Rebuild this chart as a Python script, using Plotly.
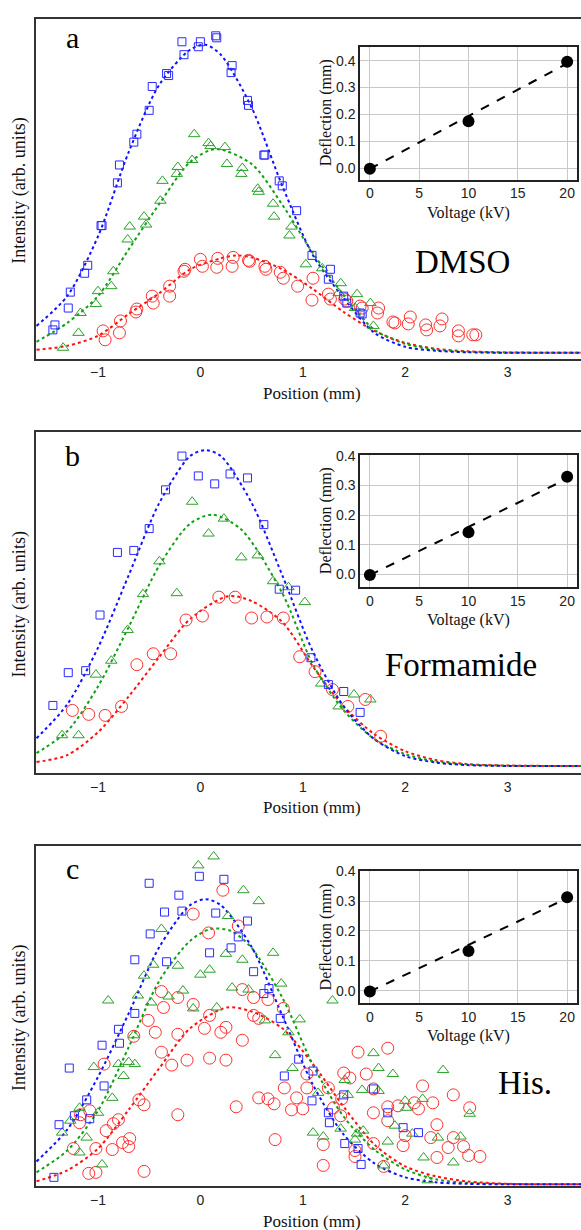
import plotly.graph_objects as go

# ---------------- data ----------------
# Panel a (DMSO) - scatter
a_sq_x = [-0.18,0.0,-0.02,0.15,0.16,-0.16,0.31,0.30,-0.33,-0.31,-0.47,-0.50,-0.62,-0.65,0.46,0.47,-0.79,-0.81,0.62,0.63,0.77,0.80,-0.96,-0.97,-1.10,-1.13,-1.27,-1.29,-1.42,-1.44,0.94,1.09,1.27,1.25,1.40,1.43,1.56,1.58]
a_sq_y = [3.13,3.13,3.08,3.19,3.17,3.00,2.89,2.82,2.81,2.79,2.68,2.44,2.20,2.12,2.54,2.49,1.89,1.71,1.99,1.99,1.73,1.68,1.28,1.28,0.88,0.80,0.61,0.45,0.28,0.23,1.43,0.98,0.84,0.74,0.57,0.50,0.40,0.39]
a_tr_x = [-0.06,0.08,0.10,0.24,0.26,-0.08,-0.22,-0.23,-0.37,-0.39,0.41,0.40,0.56,0.57,0.71,-0.55,-0.53,-0.69,-0.71,-0.85,-0.87,-1.00,-1.02,-1.17,-1.19,-1.34,0.72,0.89,0.87,1.03,1.19,1.37,1.35,1.53,1.51,1.66,1.69]
a_tr_y = [2.20,2.11,2.08,2.07,1.90,1.94,1.87,1.80,1.73,1.53,1.86,1.80,1.65,1.62,1.50,1.37,1.29,1.27,1.14,0.82,0.67,0.62,0.49,0.40,0.20,0.05,1.37,1.27,1.18,0.89,0.85,0.70,0.60,0.59,0.45,0.50,0.27]
a_ci_x = [-0.95,-0.93,-0.78,-0.79,-0.62,-0.63,-0.47,-0.46,-0.30,-0.30,-0.15,-0.16,0.0,0.02,0.17,0.16,0.32,0.31,0.47,0.48,0.63,0.64,0.78,0.81,0.95,1.10,1.09,1.25,1.27,1.41,1.43,1.56,1.58,1.74,1.73,1.88,1.90,2.05,2.03,2.20,2.21,2.36,2.34,2.52,2.52,2.66,2.69]
a_ci_y = [0.22,0.13,0.32,0.20,0.44,0.41,0.57,0.50,0.67,0.57,0.84,0.82,0.94,0.87,0.95,0.86,0.96,0.87,0.93,0.92,0.87,0.84,0.81,0.75,0.67,0.75,0.53,0.59,0.54,0.54,0.52,0.47,0.45,0.45,0.40,0.31,0.30,0.36,0.29,0.28,0.23,0.34,0.27,0.22,0.17,0.18,0.18]
# Panel a - fit curves
a_fb_x = [-1.6,-1.3,-1.0,-0.7,-0.4,-0.1,0.05,0.2,0.5,0.8,1.1,1.4,1.7,2.0,2.3,2.6,3.0,3.8]
a_fb_y = [0.27,0.57,1.17,2.02,2.70,3.05,3.10,3.00,2.47,1.68,0.98,0.55,0.20,0.06,0.02,0.005,0,0]
a_fg_x = [-1.6,-1.3,-1.0,-0.7,-0.4,-0.1,0.15,0.5,0.8,1.1,1.4,1.7,2.0,2.3,2.6,3.0,3.8]
a_fg_y = [0.11,0.30,0.57,1.04,1.50,1.92,2.05,1.90,1.49,1.00,0.58,0.23,0.09,0.03,0.01,0,0]
a_fr_x = [-1.6,-1.3,-1.0,-0.7,-0.4,-0.1,0.2,0.35,0.5,0.8,1.1,1.4,1.7,2.0,2.3,2.6,3.0,3.8]
a_fr_y = [0.03,0.07,0.17,0.39,0.60,0.84,0.95,0.98,0.96,0.84,0.64,0.41,0.22,0.10,0.04,0.015,0.003,0]

# Panel b (Formamide)
b_sq_x = [-0.18,-0.02,0.14,0.29,0.46,-0.34,-0.50,-0.65,-0.81,0.62,0.77,0.93,-0.98,-1.12,-1.29,-1.44,1.08,1.25,1.40,1.56]
b_sq_y = [3.12,2.92,2.84,2.94,2.90,2.78,2.39,2.17,2.15,2.43,1.78,1.77,1.52,0.96,0.94,0.61,1.09,0.82,0.75,0.54]
b_tr_x = [-0.08,0.23,0.08,0.40,0.56,-0.40,-0.56,-0.23,0.71,0.86,1.02,-0.71,-0.87,-1.02,-1.35,-1.19,1.18,1.35,1.50,1.66]
b_tr_y = [2.66,2.49,2.34,2.10,2.12,2.06,1.73,1.74,1.86,1.80,1.65,1.37,1.06,0.92,0.31,0.31,0.83,0.60,0.72,0.67]
b_ci_x = [0.18,0.34,-0.14,0.02,0.50,0.65,0.81,0.97,-0.29,-0.46,-0.62,-0.77,-0.93,-1.09,-1.25,1.12,1.29,1.44,1.61,1.76]
b_ci_y = [1.70,1.70,1.47,1.51,1.49,1.50,1.49,1.10,1.13,1.13,1.02,0.60,0.51,0.52,0.56,0.95,0.77,0.60,0.67,0.30]
b_fb_x = [-1.6,-1.3,-1.0,-0.7,-0.4,-0.1,0.05,0.2,0.5,0.8,1.1,1.4,1.7,2.0,2.3,2.6,3.0,3.8]
b_fb_y = [0.28,0.62,1.19,1.92,2.65,3.12,3.18,3.12,2.65,1.92,1.15,0.60,0.27,0.10,0.035,0.01,0.001,0]
b_fg_x = [-1.6,-1.3,-1.0,-0.7,-0.4,-0.1,0.12,0.4,0.8,1.1,1.4,1.7,2.0,2.3,2.6,3.0,3.8]
b_fg_y = [0.13,0.35,0.80,1.40,2.02,2.44,2.53,2.38,1.74,1.02,0.56,0.27,0.12,0.045,0.015,0.003,0]
b_fr_x = [-1.6,-1.3,-1.0,-0.7,-0.4,-0.1,0.27,0.5,0.8,1.1,1.4,1.7,2.0,2.3,2.6,3.0,3.8]
b_fr_y = [0.04,0.11,0.34,0.70,1.10,1.48,1.71,1.66,1.45,1.00,0.60,0.32,0.15,0.06,0.02,0.005,0]

# Panel c (His.)
c_sq_x = [-0.50,-0.01,0.23,-0.21,-0.35,-0.18,0.15,0.46,-0.49,0.37,0.30,0.09,-0.64,-0.33,0.52,0.67,0.62,-0.64,0.78,-0.80,-0.79,-0.96,-1.28,-0.94,-1.11,-1.23,-1.08,-1.38,-1.43,0.82,0.96,1.10,1.09,1.40,1.25,1.26,1.41,1.54,1.57,1.69,1.83,1.98,2.13]
c_sq_y = [3.03,3.10,3.07,2.91,2.74,2.75,2.73,2.65,2.52,2.49,2.38,2.33,2.26,2.24,2.14,1.97,1.92,1.72,1.67,1.56,1.42,1.40,1.17,0.99,0.85,0.69,0.66,0.60,0.07,1.09,1.26,1.14,0.84,0.90,0.72,0.62,0.41,0.36,0.20,0.96,0.72,0.57,0.52]
c_tr_x = [0.13,-0.02,0.42,0.57,0.27,-0.38,0.25,0.71,0.41,-0.46,-0.22,-0.55,0.0,0.09,0.79,0.31,0.47,-0.17,-0.31,-0.61,-0.90,-0.48,0.16,-0.07,0.63,0.97,1.29,-0.65,-1.04,-0.80,-0.70,-0.64,-0.75,-0.86,-1.18,-1.27,-1.00,-1.35,-1.11,-1.18,-0.96,0.73,0.90,0.86,1.69,1.74,1.88,2.37,1.41,1.44,1.58,1.74,1.15,2.00,2.17,2.01,1.90,2.07,1.37,1.53,1.59,1.10,1.20,1.51,1.83,2.32,2.54,2.63,2.18,2.47,1.79,2.22]
c_tr_y = [3.30,3.21,2.96,2.85,2.70,2.57,2.32,2.33,2.26,2.21,2.20,2.10,2.11,2.16,2.02,1.98,1.96,1.95,1.89,1.90,1.85,1.83,1.78,1.77,1.65,1.66,1.85,1.50,1.18,1.21,1.23,1.21,1.09,0.87,0.77,0.64,0.72,0.52,0.47,0.32,0.20,1.30,1.17,1.53,1.32,1.17,1.11,1.15,1.05,0.90,0.95,0.94,0.92,0.84,0.86,0.77,0.59,0.51,0.56,0.51,0.54,0.52,0.48,0.45,0.43,0.47,0.48,0.71,0.27,0.22,0.19,0.04]
c_ci_x = [0.22,-0.07,0.08,0.37,-0.38,-0.22,0.41,0.52,0.66,0.81,-0.36,-0.07,0.09,0.52,0.57,-0.51,-0.65,-0.44,-0.22,0.04,0.20,0.25,0.41,-0.38,-0.28,-0.13,0.09,0.25,-0.94,-0.60,-0.55,-1.08,-1.17,-1.18,-0.80,-0.85,-0.92,-0.22,0.35,0.57,0.66,0.72,0.82,0.94,0.89,0.73,-0.69,-0.76,-0.70,-0.86,-1.02,-1.24,-1.09,-1.02,-0.55,1.54,1.83,1.40,1.46,1.62,1.69,1.04,1.04,1.25,1.00,1.38,1.30,1.37,1.69,1.83,1.93,1.83,2.00,1.98,2.09,2.13,2.17,2.27,2.47,2.63,2.31,2.25,2.31,2.42,2.47,2.57,2.62,2.73,1.20,1.20,1.51,1.51,1.69,1.79]
c_ci_y = [2.96,2.72,2.53,2.60,1.94,1.88,1.96,1.88,1.86,1.77,1.78,1.81,1.70,1.70,1.67,1.65,1.49,1.53,1.51,1.57,1.53,1.58,1.45,1.33,1.20,1.25,1.27,1.25,1.21,0.85,0.80,0.74,0.70,0.62,0.65,0.61,0.54,0.70,0.78,0.87,0.86,0.81,0.97,0.87,0.75,0.45,0.46,0.42,0.38,0.35,0.36,0.36,0.11,0.12,0.13,1.33,1.37,1.12,1.07,1.11,0.96,1.11,0.97,0.97,0.76,0.86,0.77,0.69,0.72,0.78,0.79,0.64,0.49,0.39,0.82,0.76,0.99,0.82,0.90,0.77,0.60,0.47,0.27,0.37,0.47,0.38,0.29,0.28,0.40,0.19,0.34,0.28,0.41,0.18]
c_fb_x = [-1.6,-1.3,-1.0,-0.7,-0.4,-0.1,0.05,0.2,0.5,0.8,1.1,1.4,1.7,2.0,2.3,2.6,3.0,3.8]
c_fb_y = [0.23,0.55,1.08,1.72,2.39,2.81,2.87,2.81,2.39,1.70,1.00,0.50,0.21,0.07,0.02,0.005,0,0]
c_fg_x = [-1.6,-1.3,-1.0,-0.7,-0.4,-0.1,0.1,0.3,0.5,0.8,1.1,1.4,1.7,2.0,2.3,2.6,3.0,3.8]
c_fg_y = [0.12,0.34,0.74,1.38,2.05,2.45,2.57,2.55,2.38,1.88,1.20,0.68,0.35,0.15,0.05,0.015,0.002,0]
c_fr_x = [-1.6,-1.3,-1.0,-0.7,-0.4,-0.1,0.26,0.5,0.8,1.1,1.4,1.7,2.0,2.3,2.6,3.0,3.8]
c_fr_y = [0.03,0.14,0.36,0.75,1.17,1.57,1.78,1.74,1.57,1.21,0.78,0.40,0.18,0.08,0.03,0.005,0]

# Insets: deflection vs voltage
voltage = [0, 10, 20]
defl_a = [-0.003, 0.174, 0.396]
defl_b = [-0.003, 0.142, 0.330]
defl_c = [-0.003, 0.133, 0.313]
fit_v = [0, 20]
fit_a = [-0.003, 0.390]
fit_b = [-0.003, 0.323]
fit_c = [-0.003, 0.310]

pos_ticks = [-1, 0, 1, 2, 3]
pos_ticktext = ["\u22121", "0", "1", "2", "3"]
volt_ticks = [0, 5, 10, 15, 20]
defl_ticks = [0.0, 0.1, 0.2, 0.3, 0.4]
defl_ticktext = ["0.0", "0.1", "0.2", "0.3", "0.4"]
solvents = ["DMSO", "Formamide", "His."]
letters = ["a", "b", "c"]

# ---------------- layout helpers ----------------
W, H = 581, 1230
def fx(p):
    return p / W
def fy(p):
    return 1 - p / H

SERIF = "Liberation Serif, Times New Roman, serif"
SANS = "Liberation Sans, Arial, sans-serif"
SQ_COL = "#2a2aff"; TR_COL = "#2ca02c"; CI_COL = "#ff3030"
FB_COL = "#1010ff"; FG_COL = "#10a010"; FR_COL = "#ff1010"

fig = go.Figure()

panels = [
    dict(sq=(a_sq_x, a_sq_y), tr=(a_tr_x, a_tr_y), ci=(a_ci_x, a_ci_y),
         fb=(a_fb_x, a_fb_y), fg=(a_fg_x, a_fg_y), fr=(a_fr_x, a_fr_y),
         defl=defl_a, fit=fit_a, top=11, bot=353, base=347,
         itop=39, ibot=173, iyr=[-0.044, 0.452]),
    dict(sq=(b_sq_x, b_sq_y), tr=(b_tr_x, b_tr_y), ci=(b_ci_x, b_ci_y),
         fb=(b_fb_x, b_fb_y), fg=(b_fg_x, b_fg_y), fr=(b_fr_x, b_fr_y),
         defl=defl_b, fit=fit_b, top=427, bot=770, base=763,
         itop=450, ibot=583, iyr=[-0.044, 0.403]),
    dict(sq=(c_sq_x, c_sq_y), tr=(c_tr_x, c_tr_y), ci=(c_ci_x, c_ci_y),
         fb=(c_fb_x, c_fb_y), fg=(c_fg_x, c_fg_y), fr=(c_fr_x, c_fr_y),
         defl=defl_c, fit=fit_c, top=843, bot=1186, base=1184,
         itop=869, ibot=1002, iyr=[-0.043, 0.400]),
]

annotations = []
layout_axes = {}
for i, p in enumerate(panels):
    mx = 2 * i + 1
    ix = 2 * i + 2
    mxa = "x" if mx == 1 else f"x{mx}"
    mya = "y" if mx == 1 else f"y{mx}"
    ixa = f"x{ix}"
    iya = f"y{ix}"

    # fit curves
    for (cx, cy), col in [(p["fr"], FR_COL), (p["fg"], FG_COL), (p["fb"], FB_COL)]:
        fig.add_trace(go.Scatter(x=cx, y=cy, mode="lines", xaxis=mxa, yaxis=mya,
                                 line=dict(color=col, width=2, dash="dot", shape="spline", smoothing=0.8),
                                 showlegend=False, hoverinfo="skip"))
    # data markers
    fig.add_trace(go.Scatter(x=p["ci"][0], y=p["ci"][1], mode="markers", xaxis=mxa, yaxis=mya,
                             marker=dict(symbol="circle-open", size=12, color=CI_COL, line=dict(width=1, color=CI_COL)),
                             showlegend=False))
    fig.add_trace(go.Scatter(x=p["tr"][0], y=p["tr"][1], mode="markers", xaxis=mxa, yaxis=mya,
                             marker=dict(symbol="triangle-up-open", size=10, color=TR_COL, line=dict(width=1, color=TR_COL)),
                             showlegend=False))
    fig.add_trace(go.Scatter(x=p["sq"][0], y=p["sq"][1], mode="markers", xaxis=mxa, yaxis=mya,
                             marker=dict(symbol="square-open", size=8, color=SQ_COL, line=dict(width=1, color=SQ_COL)),
                             showlegend=False))
    # inset
    fig.add_trace(go.Scatter(x=fit_v, y=p["fit"], mode="lines", xaxis=ixa, yaxis=iya,
                             line=dict(color="black", width=2, dash="dash"), showlegend=False))
    fig.add_trace(go.Scatter(x=voltage, y=p["defl"], mode="markers", xaxis=ixa, yaxis=iya,
                             marker=dict(symbol="circle", size=12, color="black"), showlegend=False))

    ybot = (p["base"] - p["bot"]) / 100.0
    ytop = (p["base"] - p["top"]) / 100.0
    layout_axes["xaxis" if mx == 1 else f"xaxis{mx}"] = dict(
        domain=[fx(36), 1.0], range=[-1.605, 3.717], anchor=mya,
        tickvals=pos_ticks, ticktext=pos_ticktext, ticks="",
        tickfont=dict(family=SANS, size=14, color="#222"),
        showline=True, linecolor="#333", linewidth=1.5, mirror=True,
        showgrid=False, zeroline=False)
    layout_axes["yaxis" if mx == 1 else f"yaxis{mx}"] = dict(
        domain=[fy(p["bot"]), fy(p["top"])], range=[ybot, ytop], anchor=mxa,
        showticklabels=False, ticks="", showline=True, linecolor="#333", linewidth=1.5,
        mirror=False, showgrid=False, zeroline=False)
    layout_axes[f"xaxis{ix}"] = dict(
        domain=[fx(360), fx(577)], range=[-1, 21], anchor=iya,
        tickvals=volt_ticks, ticks="", tickfont=dict(family=SANS, size=14, color="#222"),
        showline=True, linecolor="#222", linewidth=1.5, mirror=True,
        showgrid=True, gridcolor="#c8c8c8", gridwidth=1, zeroline=False)
    layout_axes[f"yaxis{ix}"] = dict(
        domain=[fy(p["ibot"]), fy(p["itop"])], range=p["iyr"], anchor=ixa,
        tickvals=defl_ticks, ticktext=defl_ticktext, ticks="",
        tickfont=dict(family=SANS, size=14, color="#222"),
        showline=True, linecolor="#222", linewidth=1.5, mirror=True,
        showgrid=True, gridcolor="#c8c8c8", gridwidth=1, zeroline=False)

    # text annotations
    annotations.append(dict(text="Position (mm)", x=fx(312), y=fy(p["bot"] + 35), xref="paper", yref="paper",
                            showarrow=False, font=dict(family=SERIF, size=17, color="#111"),
                            xanchor="center", yanchor="middle"))
    annotations.append(dict(text="Intensity (arb. units)", x=fx(20), y=fy((p["top"] + p["bot"]) / 2 + 2),
                            xref="paper", yref="paper", showarrow=False, textangle=-90,
                            font=dict(family=SERIF, size=18, color="#111"), xanchor="center", yanchor="middle"))
    annotations.append(dict(text="Voltage (kV)", x=fx(468), y=fy(p["ibot"] + 33), xref="paper", yref="paper",
                            showarrow=False, font=dict(family=SERIF, size=16, color="#111"),
                            xanchor="center", yanchor="middle"))
    annotations.append(dict(text="Deflection (mm)", x=fx(326), y=fy((p["itop"] + p["ibot"]) / 2),
                            xref="paper", yref="paper", showarrow=False, textangle=-90,
                            font=dict(family=SERIF, size=16, color="#111"), xanchor="center", yanchor="middle"))

# panel letters and solvent names
letter_pos = [(72, 30), (72, 450), (72, 866)]
for t, (lx, ly) in zip(letters, letter_pos):
    annotations.append(dict(text=t, x=fx(lx), y=fy(ly), xref="paper", yref="paper", showarrow=False,
                            font=dict(family=SERIF, size=30, color="#000"), xanchor="center", yanchor="middle"))
solvent_pos = [(462, 256), (461, 661), (525, 1082)]
for t, (sx, sy) in zip(solvents, solvent_pos):
    annotations.append(dict(text=t, x=fx(sx), y=fy(sy), xref="paper", yref="paper", showarrow=False,
                            font=dict(family=SERIF, size=33, color="#000"), xanchor="center", yanchor="middle"))

fig.update_layout(width=W, height=H, margin=dict(l=0, r=0, t=0, b=0),
                  paper_bgcolor="white", plot_bgcolor="rgba(0,0,0,0)",
                  showlegend=False, annotations=annotations, **layout_axes)

fig.write_html("out.html", config={"displayModeBar": False},
               post_script="document.body.style.margin='0';document.body.style.padding='0';document.body.style.overflow='hidden';")
